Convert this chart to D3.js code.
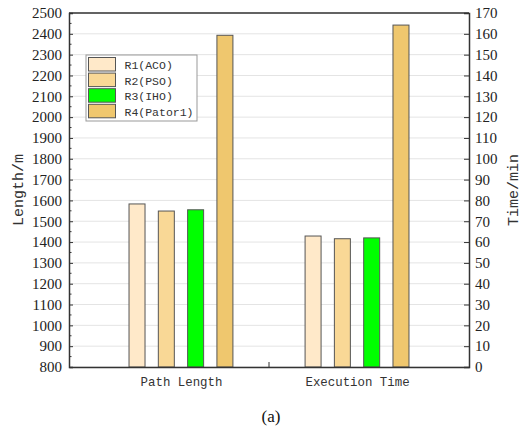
<!DOCTYPE html>
<html>
<head>
<meta charset="utf-8">
<script src="https://cdn.jsdelivr.net/npm/d3@7"></script>
<style>
  body { margin: 0; background: #fff; }
  svg { display: block; }
</style>
</head>
<body>
<svg id="chart" width="527" height="432"></svg>
<script>
// Grouped bars, two y axes: path length (left) and execution time (right)
const categories = ['Path Length', 'Execution Time'];
const seriesNames = ['R1(ACO)', 'R2(PSO)', 'R3(IHO)', 'R4(Pator1)'];
const pathLength = [1583, 1549, 1555, 2393];   // m
const execTime = [62.9, 61.6, 62.0, 164.2];     // min
const seriesColors = ['#FFE9C9', '#F9D896', '#00FF00', '#EFC76E'];
const leftTicks = d3.range(800, 2501, 100);
const rightTicks = d3.range(0, 171, 10);

const width = 527, height = 432;
const margin = {top: 13, right: 58, bottom: 65, left: 69};
const x0 = margin.left, x1 = width - margin.right;
const y0 = height - margin.bottom, y1 = margin.top;

const svg = d3.select('#chart');
const serif = '"Liberation Serif", "Times New Roman", serif';
const mono = '"Liberation Mono", "DejaVu Sans Mono", monospace';

const yLeft = d3.scaleLinear().domain([800, 2500]).range([y0, y1]);
const yRight = d3.scaleLinear().domain([0, 170]).range([y0, y1]);

const xCat = d3.scalePoint().domain(categories).range([x0, x1]).padding(0.636);
const xSeries = d3.scaleBand().domain(seriesNames)
  .range([-58.6, 58.6]).paddingInner(0.454).paddingOuter(0.227);

// gridlines
svg.append('g')
  .selectAll('line')
  .data(leftTicks)
  .join('line')
    .attr('x1', x0).attr('x2', x1)
    .attr('y1', d => yLeft(d)).attr('y2', d => yLeft(d))
    .attr('stroke', '#e4e4e4').attr('stroke-width', 1);

// bars
const groups = [
  {cat: categories[0], values: pathLength, y: yLeft},
  {cat: categories[1], values: execTime, y: yRight}
];
groups.forEach(g => {
  svg.append('g')
    .attr('transform', `translate(${xCat(g.cat)},0)`)
    .selectAll('rect')
    .data(g.values)
    .join('rect')
      .attr('x', (d, i) => xSeries(seriesNames[i]))
      .attr('width', xSeries.bandwidth())
      .attr('y', d => g.y(d))
      .attr('height', d => y0 - g.y(d))
      .attr('fill', (d, i) => seriesColors[i])
      .attr('stroke', '#555')
      .attr('stroke-width', 1);
});

// left axis, ticks pointing inward
const leftAxis = svg.append('g')
  .attr('transform', `translate(${x0},0)`)
  .call(d3.axisLeft(yLeft).tickValues(leftTicks).tickSize(-4).tickPadding(7).tickFormat(d3.format('d')));
// minor ticks
svg.append('g')
  .selectAll('line')
  .data(d3.range(850, 2500, 100))
  .join('line')
    .attr('x1', x0).attr('x2', x0 + 2.5)
    .attr('y1', d => yLeft(d)).attr('y2', d => yLeft(d))
    .attr('stroke', '#333');

const rightAxis = svg.append('g')
  .attr('transform', `translate(${x1},0)`)
  .call(d3.axisRight(yRight).tickValues(rightTicks).tickSize(-5).tickPadding(6).tickFormat(d3.format('d')));

[leftAxis, rightAxis].forEach(ax => {
  ax.select('.domain').attr('stroke', '#333').attr('stroke-width', 1.5);
  ax.selectAll('.tick line').attr('stroke', '#333');
  ax.selectAll('text').attr('font-family', serif).attr('font-size', 15).attr('fill', '#222');
});

// bottom axis
const bottomAxis = svg.append('g')
  .attr('transform', `translate(0,${y0})`)
  .call(d3.axisBottom(xCat).tickSize(0).tickPadding(10));
bottomAxis.select('.domain').attr('stroke', '#333').attr('stroke-width', 1.5);
bottomAxis.selectAll('text')
  .attr('font-family', mono).attr('font-size', 12.4).attr('fill', '#333');
// divider tick between groups
svg.append('line')
  .attr('x1', (x0 + x1) / 2).attr('x2', (x0 + x1) / 2)
  .attr('y1', y0).attr('y2', y0 - 5)
  .attr('stroke', '#333');

// top frame
svg.append('line')
  .attr('x1', x0).attr('x2', x1).attr('y1', y1).attr('y2', y1)
  .attr('stroke', '#333').attr('stroke-width', 1.5);

// axis titles
svg.append('text')
  .attr('transform', `translate(23,${(y0 + y1) / 2}) rotate(-90)`)
  .attr('text-anchor', 'middle')
  .attr('font-family', mono).attr('font-size', 15).attr('fill', '#333')
  .text('Length/m');
svg.append('text')
  .attr('transform', `translate(518,${(y0 + y1) / 2}) rotate(-90)`)
  .attr('text-anchor', 'middle')
  .attr('font-family', mono).attr('font-size', 15).attr('fill', '#333')
  .text('Time/min');

// legend
const legend = svg.append('g').attr('transform', 'translate(86,55)');
legend.append('rect')
  .attr('width', 111).attr('height', 66)
  .attr('fill', '#fff').attr('stroke', '#999').attr('stroke-width', 1);
const item = legend.selectAll('g.item')
  .data(seriesNames)
  .join('g')
    .attr('class', 'item')
    .attr('transform', (d, i) => `translate(2.5,${2.5 + i * 15.6})`);
item.append('rect')
  .attr('width', 27).attr('height', 13.5)
  .attr('fill', (d, i) => seriesColors[i])
  .attr('stroke', '#555');
item.append('text')
  .attr('x', 36).attr('y', 11.5)
  .attr('font-family', mono).attr('font-size', 11.5).attr('fill', '#333')
  .text(d => d);

// caption
svg.append('text')
  .attr('x', 271).attr('y', 422)
  .attr('text-anchor', 'middle')
  .attr('font-family', serif).attr('font-size', 17).attr('fill', '#111')
  .text('(a)');
</script>
</body>
</html>
